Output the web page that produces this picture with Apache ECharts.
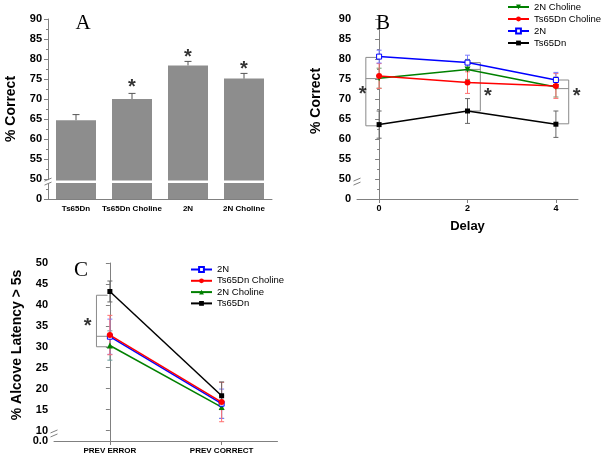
<!DOCTYPE html>
<html><head><meta charset="utf-8">
<script src="https://cdn.jsdelivr.net/npm/echarts@6/dist/echarts.min.js"></script>
<style>html,body{margin:0;padding:0;background:#fff}#c{width:603px;height:459px}</style>
</head><body><div id="c"></div>
<script>
// ---------- Panel A ----------
const groupsA = ['Ts65Dn', 'Ts65Dn Choline', '2N', '2N Choline'];
const meanA = [64.7, 70.0, 78.4, 75.1];
const errA = [1.4, 1.4, 1.0, 1.3];
const starsA = [null, 73.9, 81.4, 78.5];

// ---------- Panel B ----------
const delays = [0, 2, 4];
const namesB = ['2N Choline', 'Ts65Dn Choline', '2N', 'Ts65Dn'];
const b2NCholine = [75.2, 77.4, 73.0];
const b2NCholineErr = [2.5, 2.5, 2.5];
const bTsCholine = [75.75, 74.1, 73.25];
const bTsCholineErr = [3.1, 2.7, 3.1];
const b2N = [80.6, 79.1, 74.75];
const b2NErr = [1.6, 1.85, 1.9];
const bTs = [63.6, 67.0, 63.7];
const bTsErr = [3.4, 3.1, 3.3];
// brackets: [xVertical, xEnd, top, mid, bottom]
const bracketsB = [[-0.3, -0.05, 80.4, 75.1, 63.3], [2.29, 2.04, 79.1, 77.4, 67.0], [4.29, 4.02, 74.75, 72.6, 63.8]];
const starsB = [[-0.37, 72.2], [2.46, 71.75], [4.47, 71.7]];

// ---------- Panel C ----------
const trials = ['PREV ERROR', 'PREV CORRECT'];
const namesC = ['2N', 'Ts65Dn Choline', '2N Choline', 'Ts65Dn'];
const c2N = [32.4, 16.4];
const c2NErr = [4.2, 3.5];
const cTsCholine = [32.8, 16.8];
const cTsCholineErr = [4.7, 4.7];
const c2NCholine = [30.3, 15.6];
const c2NCholineErr = [3.5, 2.7];
const cTs = [43.2, 18.3];
const cTsErr = [2.5, 3.3];
const bracketsC = [[-0.12, -0.02, 42.3, 32.5, 30.0]];
const starsC = [[-0.2, 35.8]];

const yTicksC = [7.5, 10, 15, 20, 25, 30, 35, 40, 45, 50];
const yLabelsC = [10, 15, 20, 25, 30, 35, 40, 45, 50];
const yZeroC = [7.5];

const FONT = 'Liberation Sans';
const AX = '#808080';

function errRender(capW, upOnly) {
  return function (params, api) {
    const x = api.value(0), lo = api.value(1), hi = api.value(2);
    const pLo = api.coord([x, lo]), pHi = api.coord([x, hi]);
    const style = { stroke: api.visual('color'), lineWidth: 1 };
    const ch = [
      { type: 'line', shape: { x1: pLo[0], y1: pLo[1], x2: pHi[0], y2: pHi[1] }, style },
      { type: 'line', shape: { x1: pHi[0] - capW / 2, y1: pHi[1], x2: pHi[0] + capW / 2, y2: pHi[1] }, style }
    ];
    if (!upOnly) ch.push({ type: 'line', shape: { x1: pLo[0] - capW / 2, y1: pLo[1], x2: pLo[0] + capW / 2, y2: pLo[1] }, style });
    return { type: 'group', children: ch };
  };
}
function bracketRender(params, api) {
  const xv = api.value(0), xe = api.value(1), t = api.value(2), m = api.value(3), b = api.value(4);
  const p1 = api.coord([xe, t]), p2 = api.coord([xv, t]), p3 = api.coord([xv, b]), p4 = api.coord([xe, b]);
  const m1 = api.coord([xv, m]), m2 = api.coord([xe, m]);
  const style = { stroke: '#8a8a8a', lineWidth: 1, fill: null };
  return { type: 'group', children: [
    { type: 'polyline', shape: { points: [p1, p2, p3, p4] }, style },
    { type: 'line', shape: { x1: m1[0], y1: m1[1], x2: m2[0], y2: m2[1] }, style }
  ]};
}
function errData(xs, means, errs, upOnly) {
  return means.map((v, i) => [xs[i], upOnly ? v : v - errs[i], v + errs[i]]);
}
function pairs(xs, ys) { return ys.map((v, i) => [xs[i], v]); }

function yAxisOf(gi, min, max, name, nameGap, pad) {
  return {
    type: 'value', gridIndex: gi, min, max, interval: 5,
    name, nameLocation: 'middle', nameGap,
    nameTextStyle: { fontFamily: FONT, fontWeight: 'bold', fontSize: 14, color: '#000', padding: pad },
    axisLine: { show: true, lineStyle: { color: AX } },
    axisTick: { show: true, length: 4, lineStyle: { color: AX } },
    minorTick: { show: true, splitNumber: 2, length: 2, lineStyle: { color: AX } },
    axisLabel: { showMinLabel: true, fontFamily: FONT, fontWeight: 'bold', fontSize: 11, color: '#000', margin: 6,
      formatter: v => (v === 45 ? '0' : String(v)) },
    splitLine: { show: false }
  };
}
const starLabel = { show: true, position: 'inside', formatter: '*', fontFamily: FONT, fontWeight: 'bold', fontSize: 20, color: '#000', offset: [0, 4] };
const starItem = { color: 'rgba(0,0,0,0)' };
const legendText = { fontFamily: FONT, fontSize: 9.5, color: '#000', lineHeight: 10 };
const tickLabel = { fontFamily: FONT, fontWeight: 'bold', fontSize: 11, color: '#000', margin: 6 };

const xIdxC = [0, 1];

const option = {
  animation: false,
  backgroundColor: '#fff',
  grid: [
    { left: 48, top: 19, width: 224, height: 180 },
    { left: 357, top: 19, width: 221, height: 180 },
    { left: 54, top: 263, width: 223.5, height: 178 }
  ],
  xAxis: [
    { type: 'category', gridIndex: 0, data: groupsA,
      axisLine: { lineStyle: { color: AX } },
      axisTick: { alignWithLabel: true, length: 4, lineStyle: { color: AX } },
      axisLabel: { interval: 0, fontFamily: FONT, fontWeight: 'bold', fontSize: 8, color: '#000', margin: 6 } },
    { type: 'value', gridIndex: 1, min: -0.5, max: 4.5,
      name: 'Delay', nameLocation: 'middle', nameGap: 21,
      nameTextStyle: { fontFamily: FONT, fontWeight: 'bold', fontSize: 13, color: '#000' },
      axisLine: { lineStyle: { color: AX } },
      axisTick: { length: 4, lineStyle: { color: AX }, customValues: delays },
      axisLabel: { customValues: delays, fontFamily: FONT, fontWeight: 'bold', fontSize: 9, color: '#000', margin: 5 },
      splitLine: { show: false } },
    { type: 'value', gridIndex: 2, min: -0.5, max: 1.5,
      axisLine: { lineStyle: { color: AX } },
      axisTick: { length: 4, lineStyle: { color: AX }, customValues: xIdxC },
      axisLabel: { customValues: xIdxC, formatter: v => trials[Math.round(v)], fontFamily: FONT, fontWeight: 'bold', fontSize: 8, color: '#000', margin: 6 },
      splitLine: { show: false } }
  ],
  yAxis: [
    yAxisOf(0, 45, 90, '% Correct', 30, 0),
    yAxisOf(1, 45, 90, '% Correct', 34, [0, 0, 0, 16]),
    { type: 'value', gridIndex: 2, min: 7.5, max: 50, position: 'left',
      name: '% Alcove Latency > 5s', nameLocation: 'middle', nameGap: 30,
      nameTextStyle: { fontFamily: FONT, fontWeight: 'bold', fontSize: 14, color: '#000', padding: [0, 0, 0, 14] },
      axisLine: { show: true, lineStyle: { color: AX } },
      axisTick: { show: true, length: 4, lineStyle: { color: AX }, customValues: yTicksC },
      axisLabel: Object.assign({ customValues: yLabelsC }, tickLabel),
      splitLine: { show: false } },
    { type: 'value', gridIndex: 2, min: 7.5, max: 50, position: 'left', offset: 0,
      axisLine: { show: false }, axisTick: { show: false },
      axisLabel: Object.assign({ customValues: yZeroC, showMinLabel: true, formatter: () => '0.0' }, tickLabel),
      splitLine: { show: false } }
  ],
  legend: [
    { orient: 'vertical', left: 507, top: 2, padding: 0, itemWidth: 21, itemHeight: 6, itemGap: 2,
      textStyle: legendText, data: namesB },
    { orient: 'vertical', left: 190, top: 264.5, padding: 0, itemWidth: 21, itemHeight: 6, itemGap: 1.3,
      textStyle: legendText, data: namesC.map(n => n + ' ') }
  ],
  series: [
    // Panel A
    { type: 'bar', xAxisIndex: 0, yAxisIndex: 0, data: meanA, barWidth: 40, itemStyle: { color: '#8d8d8d' }, z: 2 },
    { type: 'custom', xAxisIndex: 0, yAxisIndex: 0, renderItem: errRender(7, true), itemStyle: { color: '#555' },
      data: errData([0, 1, 2, 3], meanA, errA, true), z: 3 },
    { type: 'scatter', xAxisIndex: 0, yAxisIndex: 0, symbolSize: 1, itemStyle: starItem,
      data: starsA.map((v, i) => v == null ? null : [i, v]).filter(d => d), label: starLabel, z: 5 },

    // Panel B error bars
    { type: 'custom', xAxisIndex: 1, yAxisIndex: 1, renderItem: errRender(5, false), itemStyle: { color: '#6a9a6a' }, data: errData(delays, b2NCholine, b2NCholineErr), z: 1 },
    { type: 'custom', xAxisIndex: 1, yAxisIndex: 1, renderItem: errRender(5, false), itemStyle: { color: '#ff6f6f' }, data: errData(delays, bTsCholine, bTsCholineErr), z: 1 },
    { type: 'custom', xAxisIndex: 1, yAxisIndex: 1, renderItem: errRender(5, false), itemStyle: { color: '#7a7aff' }, data: errData(delays, b2N, b2NErr), z: 1 },
    { type: 'custom', xAxisIndex: 1, yAxisIndex: 1, renderItem: errRender(5, false), itemStyle: { color: '#666' }, data: errData(delays, bTs, bTsErr), z: 1 },
    { type: 'custom', xAxisIndex: 1, yAxisIndex: 1, renderItem: bracketRender, data: bracketsB, z: 1 },
    // Panel B lines
    { name: '2N Choline', type: 'line', xAxisIndex: 1, yAxisIndex: 1, data: pairs(delays, b2NCholine),
      symbol: 'triangle', symbolRotate: 180, symbolSize: 6, lineStyle: { color: '#008000', width: 1.5 }, itemStyle: { color: '#008000' }, z: 3 },
    { name: 'Ts65Dn Choline', type: 'line', xAxisIndex: 1, yAxisIndex: 1, data: pairs(delays, bTsCholine),
      symbol: 'circle', symbolSize: 6, lineStyle: { color: '#ff0000', width: 1.5 }, itemStyle: { color: '#ff0000' }, z: 4 },
    { name: '2N', type: 'line', xAxisIndex: 1, yAxisIndex: 1, data: pairs(delays, b2N),
      symbol: 'rect', symbolSize: 5, lineStyle: { color: '#0000ff', width: 1.5 }, itemStyle: { color: '#fff', borderColor: '#0000ff', borderWidth: 1 }, z: 5 },
    { name: 'Ts65Dn', type: 'line', xAxisIndex: 1, yAxisIndex: 1, data: pairs(delays, bTs),
      symbol: 'rect', symbolSize: 5, lineStyle: { color: '#000', width: 1.5 }, itemStyle: { color: '#000' }, z: 5 },
    { type: 'scatter', xAxisIndex: 1, yAxisIndex: 1, symbolSize: 1, itemStyle: starItem, data: starsB, clip: false, label: starLabel, z: 6 },

    // Panel C error bars
    { type: 'custom', xAxisIndex: 2, yAxisIndex: 2, renderItem: errRender(5, false), itemStyle: { color: '#6a9a9a' }, data: errData(xIdxC, c2NCholine, c2NCholineErr), z: 1 },
    { type: 'custom', xAxisIndex: 2, yAxisIndex: 2, renderItem: errRender(5, false), itemStyle: { color: '#7a7aff' }, data: errData(xIdxC, c2N, c2NErr), z: 1 },
    { type: 'custom', xAxisIndex: 2, yAxisIndex: 2, renderItem: errRender(5, false), itemStyle: { color: '#ff6f6f' }, data: errData(xIdxC, cTsCholine, cTsCholineErr), z: 1 },
    { type: 'custom', xAxisIndex: 2, yAxisIndex: 2, renderItem: errRender(5, false), itemStyle: { color: '#666' }, data: errData(xIdxC, cTs, cTsErr), z: 1 },
    { type: 'custom', xAxisIndex: 2, yAxisIndex: 2, renderItem: bracketRender, data: bracketsC, z: 1 },
    // Panel C lines
    { name: '2N Choline ', type: 'line', xAxisIndex: 2, yAxisIndex: 2, data: pairs(xIdxC, c2NCholine),
      symbol: 'triangle', symbolSize: 6, lineStyle: { color: '#008000', width: 1.5 }, itemStyle: { color: '#008000' }, z: 3 },
    { name: '2N ', type: 'line', xAxisIndex: 2, yAxisIndex: 2, data: pairs(xIdxC, c2N),
      symbol: 'rect', symbolSize: 5, lineStyle: { color: '#0000ff', width: 1.5 }, itemStyle: { color: '#fff', borderColor: '#0000ff', borderWidth: 1 }, z: 3 },
    { name: 'Ts65Dn Choline ', type: 'line', xAxisIndex: 2, yAxisIndex: 2, data: pairs(xIdxC, cTsCholine),
      symbol: 'circle', symbolSize: 6, lineStyle: { color: '#ff0000', width: 1.5 }, itemStyle: { color: '#ff0000' }, z: 4 },
    { name: 'Ts65Dn ', type: 'line', xAxisIndex: 2, yAxisIndex: 2, data: pairs(xIdxC, cTs),
      symbol: 'rect', symbolSize: 5, lineStyle: { color: '#000', width: 1.5 }, itemStyle: { color: '#000' }, z: 5 },
    { type: 'scatter', xAxisIndex: 2, yAxisIndex: 2, symbolSize: 1, itemStyle: starItem, data: starsC, clip: false, label: starLabel, z: 6 }
  ]
};

const chart = echarts.init(document.getElementById('c'), null, { renderer: 'canvas' });
chart.setOption(option);

// decorations: panel letters, axis breaks
const g = [];
function letter(t, x, y) {
  g.push({ type: 'text', x, y, z: 10, style: { text: t, fontFamily: 'Liberation Serif', fontSize: 21, fill: '#000', textAlign: 'center', textVerticalAlign: 'middle' } });
}
letter('A', 83, 23);
letter('B', 383, 23);
letter('C', 81, 270);
function brk(axIdx, ax, v) {
  const y = chart.convertToPixel({ yAxisIndex: axIdx }, v);
  g.push({ type: 'rect', z: 10, shape: { x: ax - 2, y: y - 1.5, width: 4, height: 3 }, style: { fill: '#fff' } });
  g.push({ type: 'line', z: 11, shape: { x1: ax - 3.5, y1: y - 0.5, x2: ax + 3.5, y2: y - 3.5 }, style: { stroke: AX, lineWidth: 1 } });
  g.push({ type: 'line', z: 11, shape: { x1: ax - 3.5, y1: y + 3.5, x2: ax + 3.5, y2: y + 0.5 }, style: { stroke: AX, lineWidth: 1 } });
}
// white gap through bars of panel A
const gTop = chart.convertToPixel({ yAxisIndex: 0 }, 49.65), gBot = chart.convertToPixel({ yAxisIndex: 0 }, 49.0);
g.push({ type: 'rect', z: 9, shape: { x: 49, y: gTop, width: 223, height: gBot - gTop }, style: { fill: '#fff' } });
brk(0, 48, 49.35);
brk(1, 357, 49.35);
brk(2, 54, 9.3);
chart.setOption({ graphic: g });
</script></body></html>
